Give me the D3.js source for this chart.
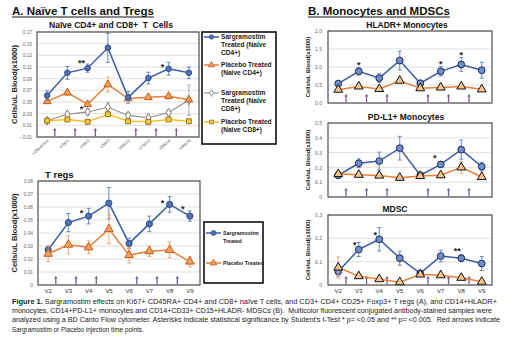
<!DOCTYPE html>
<html lang="en">
<head>
<meta charset="utf-8">
<title>Figure 1: Sargramostim effects</title>
<script src="https://cdn.jsdelivr.net/npm/d3@7"></script>
<style>
body { margin: 0; background: #fff; }
text { font-family: "Liberation Sans", Arial, sans-serif; }
</style>
</head>
<body>
<svg id="fig" width="520" height="340"></svg>
<script>
// ---- data ----
var visits = ["V2", "V3", "V4", "V5", "V6", "V7", "V8", "V9"];
var naiveLabels = ["V2Baseline", "V3W1", "V4W2", "V5W3", "V6W12", "V7W13", "V8W14", "V9W15"];
var arrowVisits = ["V2", "V3", "V4", "V6", "V7", "V8"];

var naiveTicks = [-0.01, 0.01, 0.03, 0.05, 0.07, 0.09, 0.11, 0.13, 0.15, 0.17];
var naiveSargCD4 = [0.061, 0.100, 0.108, 0.143, 0.058, 0.091, 0.107, 0.100];
var naiveSargCD4Err = [0.008, 0.011, 0.007, 0.025, 0.010, 0.010, 0.011, 0.010];
var naivePlacCD4 = [0.051, 0.066, 0.046, 0.080, 0.056, 0.058, 0.060, 0.054];
var naivePlacCD4Err = [0.003, 0.005, 0.004, 0.013, 0.003, 0.004, 0.005, 0.004];
var naiveSargCD8 = [0.018, 0.029, 0.033, 0.041, 0.027, 0.023, 0.032, 0.053];
var naiveSargCD8Err = [0.003, 0.004, 0.005, 0.008, 0.005, 0.004, 0.004, 0.026];
var naivePlacCD8 = [0.018, 0.020, 0.016, 0.029, 0.017, 0.016, 0.020, 0.017];
var naivePlacCD8Err = [0.002, 0.003, 0.002, 0.003, 0.002, 0.002, 0.003, 0.002];
var naiveStars = [["V4", 0.120, "**"], ["V4", 0.041, "*"], ["V8", 0.113, "*"]];

var tregTicks = [0, 0.01, 0.02, 0.03, 0.04, 0.05, 0.06, 0.07, 0.08];
var tregSarg = [0.027, 0.048, 0.053, 0.063, 0.032, 0.047, 0.062, 0.053];
var tregSargErr = [0.003, 0.007, 0.006, 0.012, 0.004, 0.006, 0.006, 0.004];
var tregPlac = [0.024, 0.031, 0.029, 0.043, 0.023, 0.026, 0.027, 0.018];
var tregPlacErr = [0.006, 0.007, 0.005, 0.011, 0.006, 0.004, 0.006, 0.004];
var tregStars = [["V4", 0.057, "*"], ["V8", 0.065, "*"], ["V9", 0.060, "*"]];

var hladrTicks = [0, 0.5, 1.0, 1.5, 2.0];
var hladrSarg = [0.54, 0.88, 0.69, 1.18, 0.55, 0.88, 1.07, 0.91];
var hladrSargErr = [0.06, 0.10, 0.12, 0.26, 0.05, 0.13, 0.19, 0.22];
var hladrPlac = [0.37, 0.46, 0.39, 0.62, 0.41, 0.43, 0.46, 0.38];
var hladrPlacErr = [0.05, 0.05, 0.04, 0.06, 0.04, 0.04, 0.05, 0.04];
var hladrStars = [["V3", 1.11, "*"], ["V7", 1.15, "*"], ["V8", 1.40, "*"]];

var pdl1Ticks = [0, 0.1, 0.2, 0.3, 0.4, 0.5];
var pdl1Sarg = [0.147, 0.228, 0.243, 0.330, 0.147, 0.220, 0.320, 0.205];
var pdl1SargErr = [0.02, 0.03, 0.06, 0.08, 0.01, 0.02, 0.065, 0.03];
var pdl1Plac = [0.155, 0.150, 0.145, 0.130, 0.142, 0.147, 0.200, 0.135];
var pdl1PlacErr = [0.015, 0.012, 0.012, 0.010, 0.010, 0.012, 0.040, 0.015];
var pdl1Stars = [["V7", 0.275, "*"]];

var mdscTicks = [0, 0.1, 0.2, 0.3];
var mdscSarg = [0.058, 0.152, 0.196, 0.115, 0.050, 0.124, 0.115, 0.092];
var mdscSargErr = [0.02, 0.03, 0.05, 0.03, 0.01, 0.025, 0.015, 0.03];
var mdscPlac = [0.075, 0.038, 0.025, 0.012, 0.045, 0.042, 0.031, 0.014];
var mdscPlacErr = [0.045, 0.008, 0.008, 0.006, 0.008, 0.008, 0.008, 0.006];
var mdscStars = [["V3", 0.179, "*"], ["V4", 0.222, "*"], ["V8", 0.153, "**"]];

var captionLines = [
  ["Figure 1.", " Sargramostim effects on Ki67+ CD45RA+ CD4+ and CD8+ na\u00efve T cells, and CD3+ CD4+ CD25+ Foxp3+ T regs (A), and CD14+HLADR+"],
  ["", "monocytes, CD14+PD-L1+ monocytes and CD14+CD33+ CD15+HLADR- MDSCs (B).  Multicolor fluorescent conjugated antibody-stained samples were"],
  ["", "analyzed using a BD Canto Flow cytometer. Asterisks indicate statistical significance by Student\u2019s t-Test * p= <0.05 and ** p= <0.005.  Red arrows indicate"],
  ["", "Sargramostim or Placebo injection time points."]
];

// ---- styles ----
var blueA = {line: "#3b5ca8", err: "#5a7dc0", fill: "#4f72b8", stroke: "#2a4a8a", shape: d3.symbolCircle, size: 24, lw: 1.5};
var orangeA = {line: "#e8803a", err: "#f0a060", fill: "#f2a25c", stroke: "#c45a1a", shape: d3.symbolTriangle, size: 26, lw: 1.5};
var grayA = {line: "#8c8c8c", err: "#a6a6a6", fill: "#ffffff", stroke: "#7a7a7a", shape: d3.symbolDiamond, size: 22, lw: 1.1};
var yellowA = {line: "#f5c02c", err: "#f5c02c", fill: "#f7c948", stroke: "#9a7400", shape: d3.symbolSquare, size: 24, lw: 1.5};
var blueT = Object.assign({}, blueA, {size: 30});
var orangeT = Object.assign({}, orangeA, {size: 32});
var blueB = {line: "#3b5ca8", err: "#5a7dc0", fill: "#6f8fca", stroke: "#1c2a50", shape: d3.symbolCircle, size: 36, lw: 1.5};
var orangeB = {line: "#e8803a", err: "#f0a060", fill: "#f7c48c", stroke: "#111", shape: d3.symbolTriangle, size: 34, lw: 1.5};
var arrowColor = "#7a5c8c";

var svg = d3.select("#fig");

function drawPanel(p) {
  var g = svg.append("g").attr("transform", "translate(" + p.x + "," + p.y + ")");
  var x = d3.scaleBand().domain(visits).range([0, p.w]);
  var y = d3.scaleLinear().domain(p.domain).range([p.h, 0]);
  var bw = x.bandwidth();
  var cx = function(v) { return x(v) + bw / 2; };

  g.selectAll("line.grid").data(p.ticks).enter().append("line")
    .attr("class", "grid")
    .attr("x1", 0).attr("x2", p.w)
    .attr("y1", function(d) { return y(d); }).attr("y2", function(d) { return y(d); })
    .attr("stroke", "#d9d9d9").attr("stroke-width", 0.8);

  var ax = g.append("g")
    .call(d3.axisLeft(y).tickValues(p.ticks).tickFormat(p.fmt).tickSize(0).tickPadding(p.pad));
  ax.select(".domain").remove();
  ax.selectAll("text").attr("font-size", p.tickFont).attr("fill", "#666");

  // injection arrows
  arrowVisits.forEach(function(v) {
    var xa = cx(v) + bw * 0.38, y0 = p.h - 1, y1 = p.h - 9;
    g.append("line").attr("x1", xa).attr("x2", xa).attr("y1", y0).attr("y2", y1 + 2)
      .attr("stroke", arrowColor).attr("stroke-width", 1.3);
    g.append("path").attr("d", "M" + (xa - 1.8) + "," + (y1 + 2.6) + "L" + xa + "," + y1 + "L" + (xa + 1.8) + "," + (y1 + 2.6) + "Z")
      .attr("fill", arrowColor);
  });

  p.series.forEach(function(s) {
    var st = s.style;
    var pts = visits.map(function(v, i) { return {v: v, val: s.values[i], err: s.errors[i]}; });
    g.append("path").datum(pts)
      .attr("fill", "none").attr("stroke", st.line).attr("stroke-width", st.lw)
      .attr("d", d3.line().x(function(d) { return cx(d.v); }).y(function(d) { return y(d.val); }));
    var eb = g.selectAll(null).data(pts).enter().append("g").attr("stroke", st.err).attr("stroke-width", 0.9);
    eb.append("line").attr("x1", function(d) { return cx(d.v); }).attr("x2", function(d) { return cx(d.v); })
      .attr("y1", function(d) { return y(d.val - d.err); }).attr("y2", function(d) { return y(d.val + d.err); });
    eb.append("line").attr("x1", function(d) { return cx(d.v) - 2; }).attr("x2", function(d) { return cx(d.v) + 2; })
      .attr("y1", function(d) { return y(d.val + d.err); }).attr("y2", function(d) { return y(d.val + d.err); });
    eb.append("line").attr("x1", function(d) { return cx(d.v) - 2; }).attr("x2", function(d) { return cx(d.v) + 2; })
      .attr("y1", function(d) { return y(d.val - d.err); }).attr("y2", function(d) { return y(d.val - d.err); });
    g.selectAll(null).data(pts).enter().append("path")
      .attr("transform", function(d) { return "translate(" + cx(d.v) + "," + y(d.val) + ")"; })
      .attr("d", d3.symbol().type(st.shape).size(st.size))
      .attr("fill", st.fill).attr("stroke", st.stroke).attr("stroke-width", 1);
  });

  p.stars.forEach(function(s) {
    g.append("text").attr("x", cx(s[0]) + p.starDx).attr("y", y(s[1]) + 5)
      .attr("text-anchor", "middle").attr("font-size", 9).attr("font-weight", "bold")
      .attr("fill", "#222").text(s[2]);
  });

  g.append("rect").attr("width", p.w).attr("height", p.h)
    .attr("fill", "none").attr("stroke", "#404040").attr("stroke-width", 1.1);

  if (p.xLabels === "rotated") {
    g.selectAll(null).data(visits).enter().append("text")
      .attr("transform", function(v) { return "translate(" + (cx(v) + 2) + "," + (p.h + 4) + ") rotate(-42)"; })
      .attr("text-anchor", "end").attr("font-size", 4.2).attr("fill", "#555")
      .text(function(v, i) { return naiveLabels[i]; });
  } else if (p.xLabels === "plain") {
    g.selectAll(null).data(visits).enter().append("text")
      .attr("x", function(v) { return cx(v); }).attr("y", p.h + 8)
      .attr("text-anchor", "middle").attr("font-size", 6).attr("fill", "#333")
      .text(function(v) { return v; });
  }

  var t = svg.append("text").attr("x", p.titleX).attr("y", p.titleY)
    .attr("text-anchor", p.titleAnchor).attr("font-size", p.titleSize).attr("font-weight", "bold")
    .style("white-space", "pre").attr("fill", "#111").text(p.title);

  svg.append("text")
    .attr("transform", "translate(" + p.labelX + "," + (p.y + p.h / 2) + ") rotate(-90)")
    .attr("text-anchor", "middle").attr("font-size", p.labelSize).attr("font-weight", "bold")
    .attr("fill", "#222").text("Cells/uL Blood(x1000)");
}

function drawLegend(box, entries, fontSize, lineGap) {
  svg.append("rect").attr("x", box[0]).attr("y", box[1]).attr("width", box[2]).attr("height", box[3])
    .attr("fill", "#fff").attr("stroke", "#000").attr("stroke-width", 1.5);
  entries.forEach(function(e) {
    var st = e.style, x0 = box[0] + 2, x1 = box[0] + 17;
    svg.append("line").attr("x1", x0).attr("x2", x1).attr("y1", e.y).attr("y2", e.y)
      .attr("stroke", st.line).attr("stroke-width", st.lw);
    svg.append("path").attr("transform", "translate(" + ((x0 + x1) / 2) + "," + e.y + ")")
      .attr("d", d3.symbol().type(st.shape).size(st.size * 0.6))
      .attr("fill", st.fill).attr("stroke", st.stroke).attr("stroke-width", 0.8);
    var t = svg.append("text").attr("x", x1 + 2).attr("y", e.y + fontSize * 0.35)
      .attr("font-size", fontSize).attr("font-weight", "bold").attr("fill", "#222");
    e.lines.forEach(function(l, i) {
      t.append("tspan").attr("x", x1 + 2).attr("dy", i === 0 ? 0 : lineGap).text(l);
    });
  });
}

// ---- section headers ----
[["A. Na\u00efve T cells and Tregs", 12], ["B. Monocytes and MDSCs", 308]].forEach(function(h) {
  var t = svg.append("text").attr("x", h[1]).attr("y", 15).attr("font-size", 11.5)
    .attr("font-weight", "bold").attr("fill", "#111").text(h[0]);
  var bb = t.node().getBBox();
  svg.append("line").attr("x1", bb.x).attr("x2", bb.x + bb.width).attr("y1", 17).attr("y2", 17)
    .attr("stroke", "#111").attr("stroke-width", 1);
});

var fmt2 = function(d) { return d === 0 ? "0" : d3.format(".2f")(d); };

drawPanel({
  x: 37, y: 32, w: 162, h: 105, domain: [-0.01, 0.17], ticks: naiveTicks, fmt: d3.format(".2f"),
  pad: 5, tickFont: 4.8,
  series: [
    {values: naiveSargCD8, errors: naiveSargCD8Err, style: grayA},
    {values: naivePlacCD8, errors: naivePlacCD8Err, style: yellowA},
    {values: naivePlacCD4, errors: naivePlacCD4Err, style: orangeA},
    {values: naiveSargCD4, errors: naiveSargCD4Err, style: blueA}
  ],
  stars: naiveStars, starDx: -6, xLabels: "rotated",
  title: "Na\u00efve CD4+ and CD8+  T  Cells", titleX: 111, titleY: 28, titleAnchor: "middle", titleSize: 8.5,
  labelX: 17, labelSize: 7.6
});

drawPanel({
  x: 38, y: 181, w: 162, h: 104, domain: [0, 0.08], ticks: tregTicks, fmt: fmt2,
  pad: 5, tickFont: 4.8,
  series: [
    {values: tregSarg, errors: tregSargErr, style: blueT},
    {values: tregPlac, errors: tregPlacErr, style: orangeT}
  ],
  stars: tregStars, starDx: -7, xLabels: "plain",
  title: "T regs", titleX: 45, titleY: 178, titleAnchor: "start", titleSize: 9.5,
  labelX: 17, labelSize: 7.6
});

drawPanel({
  x: 328, y: 31, w: 164, h: 72, domain: [0, 2], ticks: hladrTicks, fmt: d3.format(".1f"),
  pad: 6, tickFont: 5,
  series: [
    {values: hladrSarg, errors: hladrSargErr, style: blueB},
    {values: hladrPlac, errors: hladrPlacErr, style: orangeB}
  ],
  stars: hladrStars, starDx: 0, xLabels: null,
  title: "HLADR+ Monocytes", titleX: 407, titleY: 28, titleAnchor: "middle", titleSize: 8.5,
  labelX: 310, labelSize: 5.8
});

drawPanel({
  x: 328, y: 123, w: 164, h: 74, domain: [0, 0.5], ticks: pdl1Ticks, fmt: function(d) { return d === 0 ? "0" : d3.format(".1f")(d); },
  pad: 6, tickFont: 5,
  series: [
    {values: pdl1Sarg, errors: pdl1SargErr, style: blueB},
    {values: pdl1Plac, errors: pdl1PlacErr, style: orangeB}
  ],
  stars: pdl1Stars, starDx: -6, xLabels: null,
  title: "PD-L1+ Monocytes", titleX: 406, titleY: 120, titleAnchor: "middle", titleSize: 8.5,
  labelX: 310, labelSize: 5.8
});

drawPanel({
  x: 328, y: 215, w: 164, h: 70, domain: [0, 0.3], ticks: mdscTicks, fmt: function(d) { return d === 0 ? "0" : d3.format(".1f")(d); },
  pad: 6, tickFont: 5,
  series: [
    {values: mdscSarg, errors: mdscSargErr, style: blueB},
    {values: mdscPlac, errors: mdscPlacErr, style: orangeB}
  ],
  stars: mdscStars, starDx: -4, xLabels: "plain",
  title: "MDSC", titleX: 395, titleY: 212, titleAnchor: "middle", titleSize: 8.5,
  labelX: 310, labelSize: 5.8
});

drawLegend([202, 32, 74, 112], [
  {style: blueA, y: 37, lines: ["Sargramostim", "Treated (Naive", "CD4+)"]},
  {style: orangeA, y: 65, lines: ["Placebo Treated", "(Naive CD4+)"]},
  {style: grayA, y: 93, lines: ["Sargramostim", "Treated (Naive", "CD8+)"]},
  {style: yellowA, y: 122, lines: ["Placebo Treated", "(Naive CD8+)"]}
], 6.6, 8);

drawLegend([204, 222, 59, 61], [
  {style: blueT, y: 233, lines: ["Sargramostim", "Treated"]},
  {style: orangeT, y: 263, lines: ["Placebo Treated"]}
], 5.3, 8);

// ---- caption ----
var capWidths = [485, 480, 488, null];
captionLines.forEach(function(l, i) {
  var t = svg.append("text").attr("x", 12).attr("y", 304 + i * 9.2).attr("font-size", 6.4).attr("fill", "#222")
    .style("white-space", "pre");
  if (capWidths[i]) t.attr("textLength", capWidths[i]).attr("lengthAdjust", "spacingAndGlyphs");
  if (l[0]) t.append("tspan").attr("font-weight", "bold").text(l[0]);
  t.append("tspan").text(l[1]);
});
</script>
</body>
</html>
